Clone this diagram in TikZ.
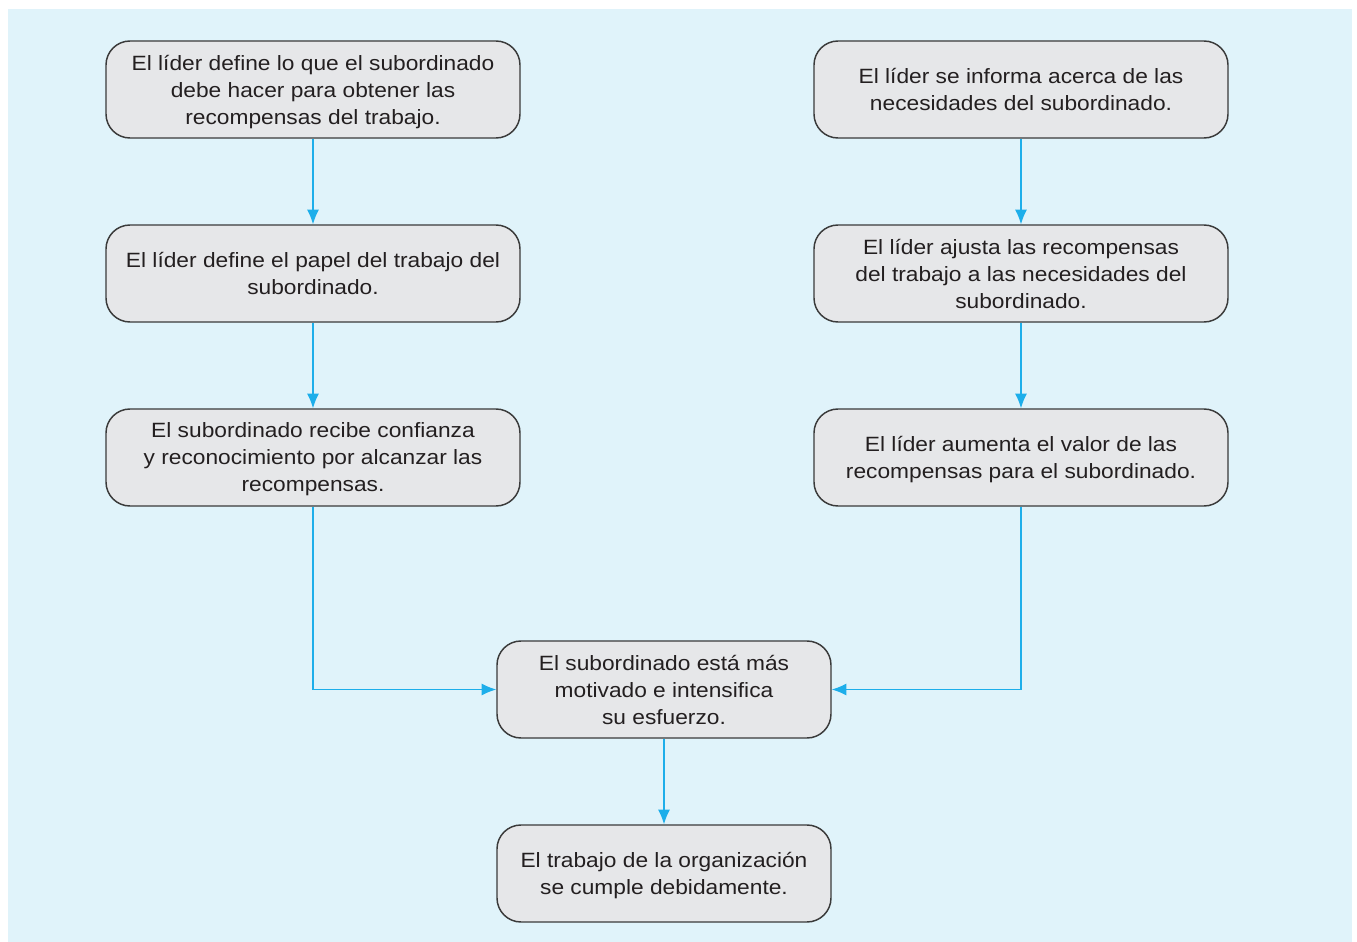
\documentclass[tikz,border=0pt]{standalone}
\usepackage{fontspec}
\setmainfont[FakeStretch=1.1]{Liberation Sans}
\usetikzlibrary{arrows.meta}
\definecolor{bgblue}{HTML}{E0F3FA}
\definecolor{boxgray}{HTML}{E6E7E9}
\definecolor{boxline}{HTML}{3A3A3A}
\definecolor{arrowcyan}{HTML}{1DAEEA}
\definecolor{txt}{HTML}{231F20}
\tikzset{
  flowbox/.style={draw=boxline, fill=boxgray, line width=1.1pt, rounded corners=18pt,
    minimum width=310.5pt, minimum height=72.75pt, align=center, inner sep=0pt,
    text depth=0pt, font=\fontsize{15.5}{20.25}\selectfont, text=txt},
  smallbox/.style={flowbox, minimum width=250.5pt},
  flowarrow/.style={draw=arrowcyan, line width=0.9pt, -{Latex[length=11pt,width=9pt]}}
}
\begin{document}
\begin{tikzpicture}[x=0.75pt,y=-0.75pt]
\useasboundingbox (0,0) rectangle (1357,942);
\fill[bgblue] (8,9) rectangle (1352,942);
\node[flowbox] (l1) at (313,89.5) {El líder define lo que el subordinado\\debe hacer para obtener las\\recompensas del trabajo.};
\node[flowbox] (l2) at (313,273.5) {El líder define el papel del trabajo del\\subordinado.};
\node[flowbox] (l3) at (313,457.5) {El subordinado recibe confianza\\y reconocimiento por alcanzar las\\recompensas.};
\node[flowbox] (r1) at (1021,89.5) {El líder se informa acerca de las\\necesidades del subordinado.};
\node[flowbox] (r2) at (1021,273.5) {El líder ajusta las recompensas\\del trabajo a las necesidades del\\subordinado.};
\node[flowbox] (r3) at (1021,457.5) {El líder aumenta el valor de las\\recompensas para el subordinado.};
\node[smallbox] (c1) at (664,689.5) {El subordinado está más\\motivado e intensifica\\su esfuerzo.};
\node[smallbox] (c2) at (664,873.5) {El trabajo de la organización\\se cumple debidamente.};
\draw[flowarrow] (l1) -- (l2);
\draw[flowarrow] (l2) -- (l3);
\draw[flowarrow] (r1) -- (r2);
\draw[flowarrow] (r2) -- (r3);
\draw[flowarrow] (l3.south) |- (c1.west);
\draw[flowarrow] (r3.south) |- (c1.east);
\draw[flowarrow] (c1) -- (c2);
\end{tikzpicture}
\end{document}
